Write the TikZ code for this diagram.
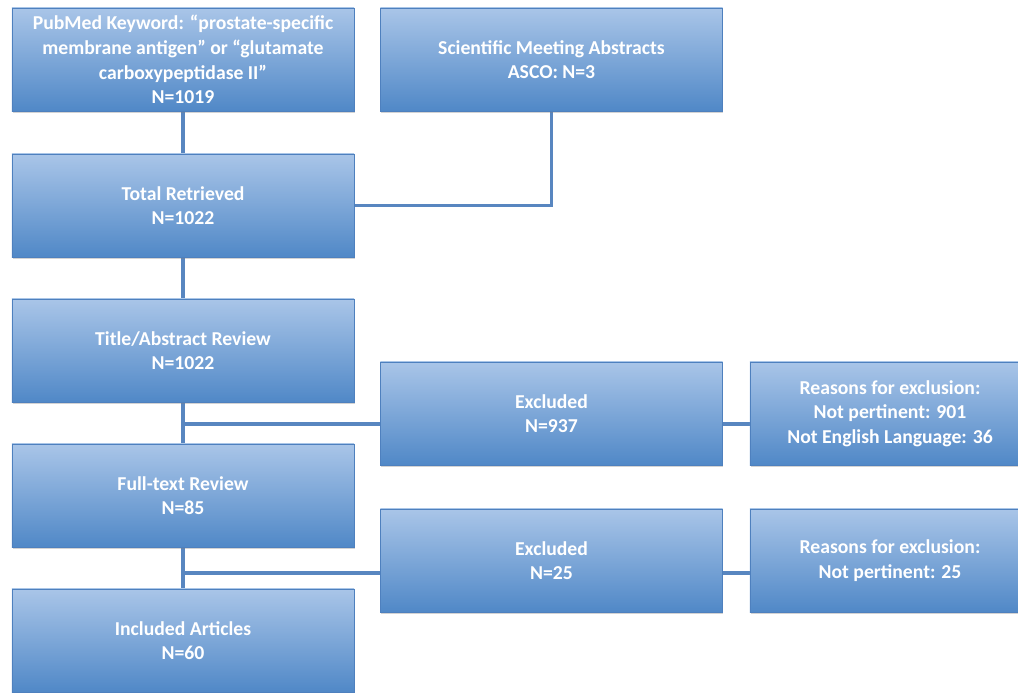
\documentclass[tikz,border=0pt]{standalone}
\usepackage{fontspec}
\setmainfont{Carlito}
\usepackage{tikz}
\pgfdeclarelayer{nodelayer}
\pgfdeclarelayer{edgelayer}
\pgfsetlayers{edgelayer,nodelayer,main}
\usetikzlibrary{shadows}
\definecolor{boxtop}{RGB}{169,197,232}
\definecolor{boxbottom}{RGB}{80,136,199}
\definecolor{boxline}{RGB}{78,128,190}
\definecolor{linkline}{RGB}{88,134,192}
\tikzset{
	box/.style={draw=boxline, line width=0.6pt, top color=boxtop, bottom color=boxbottom,
		drop shadow={shadow xshift=0.6pt, shadow yshift=-1.6pt, opacity=0.35},
		minimum width=8.55cm, minimum height=2.575cm, inner sep=0pt,
		text=white, align=center, font=\bfseries\fontsize{14}{17.5}\selectfont},
	link/.style={draw=linkline, line width=2.2pt}
}

\begin{document}
\begin{tikzpicture}[x=0.025cm, y=-0.025cm]
	\useasboundingbox (0, 0) rectangle (1018, 692);
	\begin{pgfonlayer}{nodelayer}
		\node [box] (0) at (183, 59.5) {PubMed Keyword: “prostate-specific\\membrane antigen” or “glutamate\\carboxypeptidase II”\\N=1019};
		\node [box] (1) at (551.5, 59.5) {Scientific Meeting Abstracts\\ASCO: N=3};
		\node [box] (2) at (183, 205.5) {Total Retrieved\\N=1022};
		\node [box] (3) at (183, 350.5) {Title/Abstract Review\\N=1022};
		\node [box] (4) at (551.5, 413.5) {Excluded\\N=937};
		\node [box, minimum width=7cm] (5) at (890, 413.5) {Reasons for exclusion:\\Not pertinent: 901\\Not English Language: 36};
		\node [box] (6) at (183, 495.5) {Full-text Review\\N=85};
		\node [box] (7) at (551.5, 560.5) {Excluded\\N=25};
		\node [box, minimum width=7cm] (8) at (890, 560.5) {Reasons for exclusion:\\Not pertinent: 25};
		\node [box] (9) at (183, 640.5) {Included Articles\\N=60};
		\coordinate (10) at (183, 424);
		\coordinate (11) at (183, 573);
	\end{pgfonlayer}
	\begin{pgfonlayer}{edgelayer}
		\draw [link] (0.center) to (2.center);
		\draw [link] (1.center) |- (2.center);
		\draw [link] (2.center) to (3.center);
		\draw [link] (3.center) to (6.center);
		\draw [link] (6.center) to (9.center);
		\draw [link] (10) to (10 -| 5.center);
		\draw [link] (11) to (11 -| 8.center);
	\end{pgfonlayer}
\end{tikzpicture}
\end{document}
